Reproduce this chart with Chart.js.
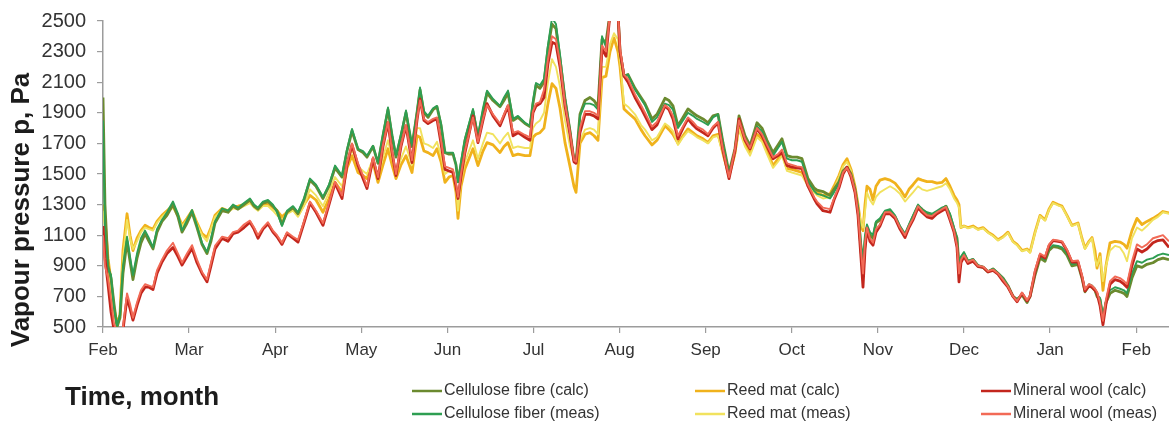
<!DOCTYPE html>
<html>
<head>
<meta charset="utf-8">
<title>Vapour pressure</title>
<script src="https://cdn.jsdelivr.net/npm/chart.js@4.4.1/dist/chart.umd.min.js"></script>
<style>
  html, body { margin: 0; padding: 0; background: #ffffff; }
  #wrap { position: relative; width: 1169px; height: 425px; }
</style>
</head>
<body>
<div id="wrap"><canvas id="chart"></canvas></div>
<script>
// Month tick labels (one tick per month boundary)
const monthLabels = ['Feb','Mar','Apr','May','Jun','Jul','Aug','Sep','Oct','Nov','Dec','Jan','Feb'];
// Vapour pressure axis ticks, Pa
const pressureTicks = [500,700,900,1100,1300,1500,1700,1900,2100,2300,2500];

// Sample times, in months from the start of February
const timeMonths = [
  0.000,0.023,0.058,0.093,0.128,0.163,0.197,0.232,0.279,0.314,
  0.348,0.395,0.441,0.488,0.534,0.581,0.627,0.685,0.743,0.813,
  0.871,0.918,0.976,1.034,1.092,1.150,1.208,1.254,1.301,1.382,
  1.452,1.510,1.568,1.638,1.707,1.754,1.800,1.858,1.916,1.974,
  2.021,2.079,2.137,2.207,2.265,2.334,2.404,2.474,2.555,2.625,
  2.695,2.776,2.834,2.892,2.962,3.020,3.066,3.136,3.194,3.252,
  3.310,3.357,3.403,3.461,3.519,3.589,3.647,3.682,3.728,3.775,
  3.833,3.879,3.926,3.972,4.019,4.065,4.100,4.123,4.158,4.204,
  4.297,4.355,4.413,4.460,4.530,4.611,4.657,4.704,4.762,4.820,
  4.901,4.959,4.994,5.029,5.075,5.122,5.168,5.215,5.261,5.308,
  5.366,5.424,5.470,5.494,5.540,5.598,5.656,5.703,5.749,5.796,
  5.842,5.889,5.935,5.981,6.005,6.051,6.098,6.179,6.249,6.295,
  6.376,6.434,6.527,6.574,6.620,6.678,6.736,6.794,6.852,6.899,
  6.969,7.027,7.085,7.143,7.201,7.271,7.340,7.387,7.456,7.515,
  7.596,7.654,7.712,7.782,7.840,7.886,7.944,8.002,8.060,8.118,
  8.188,8.258,8.293,8.362,8.444,8.490,8.548,8.595,8.641,8.688,
  8.734,8.769,8.804,8.827,8.850,8.873,8.908,8.943,8.978,9.024,
  9.082,9.141,9.199,9.257,9.315,9.361,9.408,9.466,9.512,9.570,
  9.628,9.686,9.744,9.791,9.837,9.884,9.919,9.942,9.965,10.000,
  10.046,10.105,10.163,10.221,10.279,10.337,10.395,10.453,10.511,10.569,
  10.616,10.674,10.732,10.767,10.825,10.883,10.941,10.987,11.034,11.092,
  11.138,11.196,11.254,11.324,11.370,11.405,11.452,11.487,11.521,11.545,
  11.580,11.614,11.649,11.696,11.754,11.812,11.858,11.893,11.951,12.009,
  12.067,12.125,12.195,12.253,12.311,12.381
];

// Cellulose fibre, calculated
const celluloseCalc = [
  2000,1300,900,820,650,500,560,850,1060,930,
  810,950,1050,1110,1060,1010,1120,1190,1230,1300,
  1220,1120,1180,1250,1150,1040,980,1060,1180,1260,
  1250,1290,1270,1300,1330,1290,1270,1310,1320,1290,
  1260,1170,1250,1280,1240,1330,1460,1420,1340,1420,
  1540,1480,1650,1780,1660,1640,1610,1680,1570,1750,
  1920,1750,1610,1750,1900,1680,1900,2050,1900,1870,
  1920,1940,1820,1640,1630,1630,1560,1450,1560,1720,
  1910,1740,1900,2030,1980,1940,1980,2030,1850,1870,
  1830,1810,1960,2080,2060,2100,2320,2480,2450,2250,
  1990,1780,1590,1580,1890,1980,2000,1980,1940,2380,
  2360,2550,2600,2550,2300,2140,2150,2060,2000,1960,
  1860,1890,1995,1980,1945,1815,1870,1925,1900,1880,
  1860,1835,1880,1890,1705,1510,1665,1880,1750,1685,
  1835,1800,1720,1640,1690,1730,1620,1610,1610,1600,
  1470,1410,1395,1385,1360,1400,1450,1520,1545,1500,
  1400,1270,1000,850,1050,1150,1100,1080,1180,1200,
  1250,1260,1220,1150,1100,1160,1220,1290,1270,1240,
  1230,1250,1270,1290,1230,1140,1080,900,950,980,
  930,940,900,890,860,880,850,820,770,700,
  680,710,660,700,840,950,930,1000,1025,1020,
  1010,970,900,910,820,730,770,760,740,700,
  680,560,660,720,740,730,720,700,820,900,
  890,910,920,940,950,940
];

// Cellulose fibre, measured
const celluloseMeas = [
  1850,1150,880,840,620,510,580,900,1090,960,
  840,980,1080,1130,1080,1020,1140,1200,1250,1320,
  1240,1130,1200,1265,1160,1050,990,1080,1190,1275,
  1260,1300,1280,1310,1340,1300,1280,1320,1330,1300,
  1250,1160,1260,1290,1250,1340,1470,1430,1350,1430,
  1555,1490,1660,1795,1665,1650,1620,1685,1575,1760,
  1935,1760,1620,1760,1915,1685,1910,2065,1910,1880,
  1930,1945,1830,1640,1640,1640,1560,1445,1580,1730,
  1925,1750,1930,2045,1990,1945,2000,2045,1860,1880,
  1835,1815,1980,2095,2080,2120,2340,2520,2480,2280,
  2000,1790,1590,1575,1880,1960,1960,1950,1920,2400,
  2330,2550,2600,2550,2290,2140,2150,2050,1990,1950,
  1840,1870,1960,1950,1920,1800,1850,1900,1880,1860,
  1840,1820,1870,1890,1700,1500,1650,1860,1730,1670,
  1810,1780,1700,1620,1670,1710,1600,1590,1590,1580,
  1450,1390,1370,1360,1340,1380,1440,1510,1540,1490,
  1390,1280,1050,950,1100,1170,1120,1100,1190,1210,
  1260,1270,1230,1160,1110,1170,1230,1300,1270,1250,
  1240,1260,1280,1290,1240,1150,1080,920,960,990,
  930,945,905,895,865,880,855,820,770,700,
  680,715,665,700,850,960,940,1010,1035,1030,
  1020,980,910,920,830,740,780,770,750,710,
  690,570,670,740,760,750,740,720,850,930,
  920,940,950,970,980,970
];

// Reed mat, calculated
const reedCalc = [
  1300,1200,950,800,620,520,580,1000,1240,1100,
  1000,1080,1130,1165,1150,1140,1190,1230,1260,1295,
  1230,1165,1210,1260,1180,1110,1085,1150,1230,1275,
  1260,1285,1290,1300,1325,1290,1275,1300,1305,1280,
  1260,1220,1250,1275,1230,1300,1360,1330,1250,1340,
  1445,1380,1540,1620,1510,1490,1470,1575,1445,1560,
  1665,1560,1470,1560,1620,1510,1750,1740,1650,1640,
  1620,1665,1580,1445,1480,1490,1380,1210,1420,1535,
  1665,1555,1650,1705,1690,1640,1680,1705,1620,1630,
  1620,1620,1740,1760,1770,1800,1960,2090,2060,1930,
  1705,1550,1420,1380,1700,1760,1770,1750,1720,2130,
  2140,2300,2390,2300,2200,1925,1900,1860,1790,1750,
  1690,1720,1815,1790,1760,1700,1750,1795,1770,1750,
  1730,1705,1750,1760,1640,1490,1640,1815,1700,1640,
  1760,1730,1650,1555,1600,1640,1535,1530,1520,1510,
  1440,1400,1380,1360,1370,1420,1490,1560,1600,1530,
  1420,1300,1160,1130,1300,1420,1400,1330,1420,1460,
  1470,1460,1440,1400,1350,1400,1430,1470,1460,1450,
  1450,1440,1445,1470,1420,1360,1330,1300,1150,1160,
  1150,1160,1140,1150,1120,1100,1070,1090,1120,1060,
  1040,1000,1010,990,1120,1230,1200,1270,1315,1300,
  1290,1230,1165,1180,1080,1015,1060,1085,1000,885,
  980,740,900,1050,1060,1055,1040,1015,1130,1210,
  1170,1190,1210,1230,1255,1245
];

// Reed mat, measured
const reedMeas = [
  1260,1150,850,750,600,520,560,950,1200,1080,
  1010,1060,1120,1150,1140,1130,1180,1220,1250,1280,
  1220,1160,1200,1250,1170,1100,1060,1140,1220,1265,
  1250,1275,1270,1290,1310,1280,1260,1290,1290,1260,
  1230,1200,1240,1260,1220,1290,1400,1360,1290,1380,
  1480,1420,1580,1660,1550,1520,1500,1600,1480,1610,
  1720,1610,1500,1600,1680,1560,1800,1800,1700,1690,
  1670,1710,1620,1500,1520,1520,1420,1260,1450,1580,
  1720,1600,1700,1770,1760,1700,1740,1770,1670,1680,
  1670,1670,1800,1830,1850,1900,2100,2250,2200,2070,
  1850,1680,1590,1570,1720,1790,1800,1790,1760,2200,
  2200,2350,2420,2380,2250,1960,1940,1890,1820,1790,
  1720,1740,1830,1810,1780,1690,1740,1780,1760,1740,
  1720,1700,1740,1750,1620,1480,1620,1790,1680,1620,
  1740,1710,1630,1540,1580,1620,1520,1510,1500,1490,
  1420,1380,1360,1340,1350,1400,1480,1550,1580,1520,
  1400,1290,1180,1150,1250,1380,1330,1300,1350,1380,
  1400,1420,1400,1370,1320,1350,1380,1420,1400,1390,
  1400,1410,1420,1440,1400,1340,1310,1280,1150,1160,
  1145,1155,1135,1145,1115,1095,1065,1085,1115,1055,
  1035,995,1005,985,1115,1225,1195,1265,1310,1295,
  1285,1225,1160,1175,1075,1010,1055,1080,950,900,
  960,800,900,1000,1030,1020,980,930,1080,1150,
  1130,1160,1200,1220,1250,1240
];

// Mineral wool, calculated
const mineralCalc = [
  1160,950,780,600,480,460,440,480,690,620,
  545,640,720,760,760,745,850,925,980,1020,
  960,905,960,1015,920,850,795,900,1010,1080,
  1060,1110,1120,1150,1185,1140,1080,1140,1175,1120,
  1090,1040,1110,1080,1055,1180,1310,1250,1165,1300,
  1440,1340,1560,1690,1555,1470,1405,1600,1470,1680,
  1835,1640,1490,1680,1815,1575,1850,1990,1850,1830,
  1850,1860,1700,1530,1520,1510,1420,1340,1480,1640,
  1880,1705,1850,1960,1880,1815,1880,1945,1750,1770,
  1740,1720,1900,1945,1960,2000,2220,2360,2350,2200,
  1945,1760,1580,1570,1770,1890,1890,1880,1860,2320,
  2270,2550,2600,2550,2300,2140,2100,2000,1930,1880,
  1790,1820,1945,1920,1860,1730,1800,1860,1820,1795,
  1770,1750,1800,1835,1650,1470,1650,1860,1720,1665,
  1795,1750,1680,1600,1620,1640,1555,1545,1540,1535,
  1420,1340,1305,1260,1250,1330,1410,1500,1545,1480,
  1380,1230,950,760,1000,1145,1060,1035,1120,1160,
  1240,1240,1210,1140,1085,1150,1200,1280,1250,1220,
  1210,1240,1260,1275,1200,1120,1020,795,920,960,
  915,930,895,890,860,870,845,800,760,700,
  665,720,670,700,860,970,950,1030,1065,1060,
  1055,1000,925,925,830,735,770,760,740,720,
  640,515,650,780,810,800,780,760,900,1010,
  990,1010,1050,1065,1070,1020
];

// Mineral wool, measured
const mineralMeas = [
  1100,900,820,680,520,470,450,500,720,650,
  560,660,740,780,770,760,870,940,1000,1050,
  980,920,980,1035,940,860,810,920,1030,1090,
  1080,1120,1130,1170,1195,1150,1100,1150,1185,1130,
  1100,1050,1120,1090,1070,1190,1320,1260,1180,1310,
  1450,1360,1570,1700,1570,1490,1420,1610,1480,1690,
  1840,1650,1500,1690,1820,1590,1860,1980,1860,1840,
  1860,1870,1720,1550,1540,1530,1440,1350,1500,1650,
  1870,1710,1860,1950,1890,1830,1890,1950,1770,1780,
  1755,1740,1910,1960,1970,2050,2250,2400,2380,2230,
  1960,1770,1590,1580,1800,1910,1910,1900,1880,2340,
  2300,2550,2600,2550,2320,2150,2120,2020,1950,1900,
  1810,1840,1950,1930,1880,1750,1810,1870,1840,1810,
  1790,1760,1810,1840,1660,1480,1660,1850,1730,1670,
  1800,1760,1690,1610,1630,1660,1570,1560,1550,1545,
  1430,1350,1320,1280,1270,1340,1420,1510,1540,1490,
  1390,1250,1000,850,1050,1150,1080,1050,1140,1170,
  1250,1250,1220,1150,1100,1160,1210,1290,1260,1230,
  1225,1250,1270,1285,1210,1130,1030,850,940,970,
  925,940,900,895,865,875,850,810,765,700,
  670,725,675,705,870,980,960,1040,1070,1065,
  1060,1005,930,935,840,745,780,770,750,730,
  660,540,680,800,830,820,800,780,930,1040,
  1020,1040,1080,1090,1100,1060
];

const yAxisTitle = 'Vapour pressure p, Pa';
const xAxisTitle = 'Time, month';

const seriesList = [
  { label: 'Cellulose fibre (calc)', values: celluloseCalc, color: '#6b8a2f', width: 2.8, order: 3 },
  { label: 'Cellulose fiber (meas)', values: celluloseMeas, color: '#2e9e52', width: 1.9, order: 2 },
  { label: 'Reed mat (calc)',        values: reedCalc,      color: '#f0b21c', width: 2.8, order: 5 },
  { label: 'Reed mat (meas)',        values: reedMeas,      color: '#f1e25e', width: 1.9, order: 4 },
  { label: 'Mineral wool (calc)',    values: mineralCalc,   color: '#c3261d', width: 2.8, order: 1 },
  { label: 'Mineral wool (meas)',    values: mineralMeas,   color: '#f26a56', width: 1.9, order: 0 }
];

const textFont = '"Liberation Sans", Arial, sans-serif';

// Titles and the two-row legend drawn under the plot
const frameText = {
  id: 'frameText',
  afterDraw(chart) {
    const ctx = chart.ctx;
    ctx.save();
    ctx.fillStyle = '#1c1c1c';
    ctx.font = 'bold 26px ' + textFont;
    ctx.textAlign = 'center';
    ctx.textBaseline = 'middle';
    ctx.save();
    ctx.translate(22, 210);
    ctx.rotate(-Math.PI / 2);
    ctx.fillText(yAxisTitle, 0, 0);
    ctx.restore();

    ctx.textAlign = 'left';
    ctx.fillText(xAxisTitle, 65, 398);

    const cols = [412, 695, 981];
    const rows = [391, 414];
    ctx.font = '16px ' + textFont;
    ctx.textBaseline = 'middle';
    chart.data.datasets.forEach((ds, i) => {
      const x = cols[Math.floor(i / 2)];
      const y = rows[i % 2];
      ctx.strokeStyle = ds.borderColor;
      ctx.lineWidth = 2.5;
      ctx.beginPath();
      ctx.moveTo(x, y);
      ctx.lineTo(x + 30, y);
      ctx.stroke();
      ctx.fillStyle = '#333333';
      ctx.fillText(ds.label, x + 32, y);
    });
    ctx.restore();
  }
};

const axisGrey = '#9c9c9c';

new Chart(document.getElementById('chart'), {
  type: 'line',
  data: {
    datasets: seriesList.map(s => ({
      label: s.label,
      data: timeMonths.map((t, i) => ({ x: t, y: s.values[i] })),
      borderColor: s.color,
      backgroundColor: s.color,
      borderWidth: s.width,
      borderJoinStyle: 'round',
      pointRadius: 0,
      tension: 0,
      fill: false,
      order: s.order
    }))
  },
  options: {
    responsive: true,
    maintainAspectRatio: false,
    animation: false,
    parsing: false,
    layout: { padding: { top: 20, right: 0, bottom: 0, left: 0 } },
    plugins: {
      legend: { display: false },
      tooltip: { enabled: false }
    },
    scales: {
      x: {
        type: 'linear',
        min: 0,
        max: timeMonths[timeMonths.length - 1],
        afterBuildTicks: scale => { scale.ticks = monthLabels.map((_, i) => ({ value: i })); },
        afterFit: scale => { scale.height = 98; },
        grid: { drawOnChartArea: false, drawTicks: true, tickLength: 6, color: axisGrey, lineWidth: 1.2 },
        border: { display: true, color: axisGrey, width: 1.5 },
        ticks: {
          autoSkip: false,
          maxRotation: 0,
          padding: 7,
          color: '#333333',
          font: { family: textFont, size: 17 },
          callback: (value, index) => monthLabels[index]
        }
      },
      y: {
        type: 'linear',
        min: pressureTicks[0],
        max: pressureTicks[pressureTicks.length - 1],
        afterBuildTicks: scale => { scale.ticks = pressureTicks.map(v => ({ value: v })); },
        afterFit: scale => { scale.width = 103; },
        grid: { drawOnChartArea: false, drawTicks: true, tickLength: 6, color: axisGrey, lineWidth: 1.2 },
        border: { display: true, color: axisGrey, width: 1.5 },
        ticks: {
          padding: 11,
          color: '#333333',
          font: { family: textFont, size: 20, lineHeight: 1 },
          callback: value => String(value)
        }
      }
    }
  },
  plugins: [frameText]
});
</script>
</body>
</html>
